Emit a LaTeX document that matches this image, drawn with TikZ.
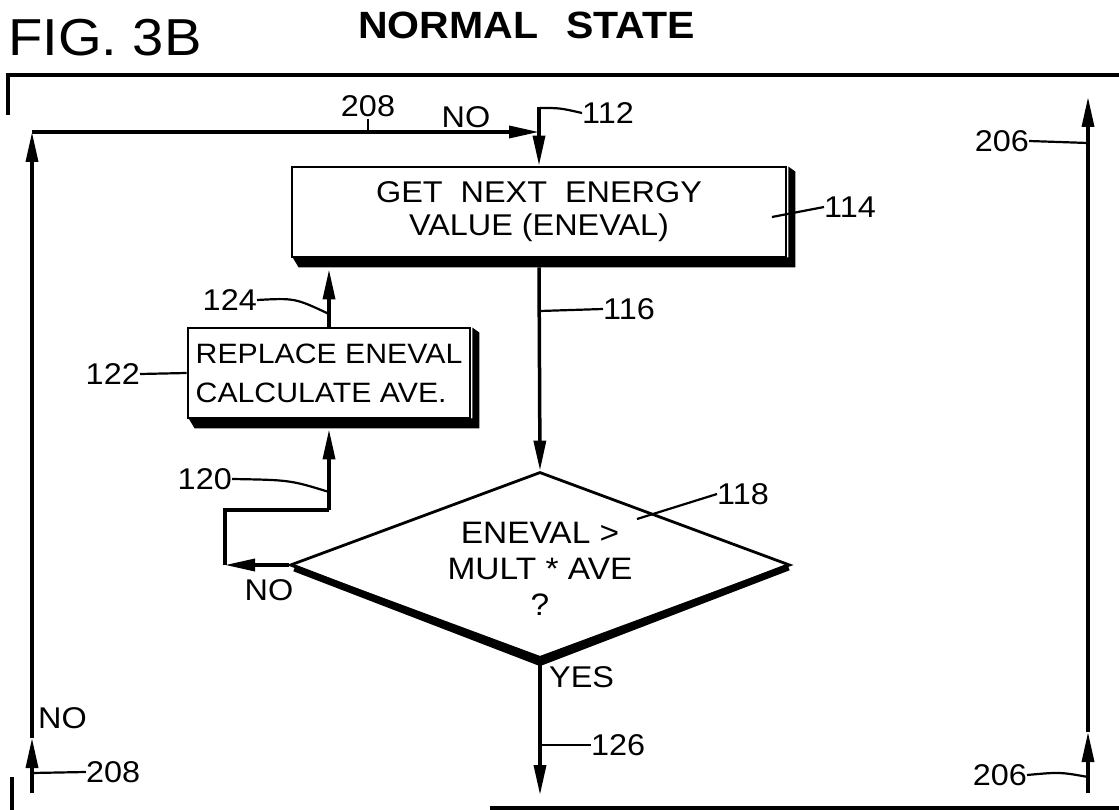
\documentclass[tikz,border=0pt]{standalone}
\usepackage{fontspec}
\setmainfont[FakeStretch=1.08]{Liberation Sans}
\usetikzlibrary{arrows.meta,shapes.geometric,calc}
\begin{document}
\begin{tikzpicture}[x=1pt,y=-1pt,
  flow/.style={line width=3.5pt},
  arr/.style={-{Triangle[length=30pt,width=12pt]}},
  lead/.style={line width=2.2pt},
  lbl/.style={font=\fontsize{30}{30}\selectfont, inner sep=0pt},
  frame/.style={line width=3.5pt},
  boxst/.style={draw, line width=2.8pt, inner sep=0pt},
]
\useasboundingbox (0,0) rectangle (1119,810);

% titles
\node[anchor=base west, inner sep=0pt, font=\fontsize{52}{52}\selectfont] (fig) at (8,56) {FIG. 3B};
\node[anchor=base east, inner sep=0pt, font=\bfseries\fontsize{38}{38}\selectfont] (title) at (695,39) {NORMAL\hspace{28pt}STATE};

% frame
\coordinate (fa) at (8,115);
\coordinate (fb) at (8,75);
\coordinate (fc) at (1119,75);
\draw[frame] (fa) -- (fb) -- (fc);
\coordinate (fd) at (12,777);
\coordinate (fe) at (12,810);
\draw[frame] (fd) -- (fe);
\coordinate (ff) at (490,808);
\coordinate (fg) at (1119,808);
\draw[frame] (ff) -- (fg);

% box 114
\node[boxst, minimum width=494pt, minimum height=90pt, align=center,
      font=\fontsize{30}{33}\selectfont] (b114) at (539,212)
      {GET\hspace{0.6em}NEXT\hspace{0.6em}ENERGY\\VALUE (ENEVAL)};
\fill ($(b114.south west)+(2,-1)$) -- ($(b114.south west)+(8,9)$) -- ($(b114.south east)+(8,9)$)
      -- ($(b114.north east)+(8,6)$) -- ($(b114.north east)+(1,1)$) -- ($(b114.south east)+(1,-1)$) -- cycle;

% box 122
\node[boxst, minimum width=282pt, minimum height=90pt, align=left,
      font=\fontsize{28}{39}\selectfont] (b122) at (329,373)
      {REPLACE ENEVAL\\CALCULATE AVE.};
\fill ($(b122.south west)+(2,-1)$) -- ($(b122.south west)+(8,9)$) -- ($(b122.south east)+(8,9)$)
      -- ($(b122.north east)+(8,6)$) -- ($(b122.north east)+(1,1)$) -- ($(b122.south east)+(1,-1)$) -- cycle;

% diamond 118
\node[diamond, draw, line width=2.8pt, minimum width=500pt, minimum height=186pt, inner sep=0pt] (d) at (540,565) {};
\draw[line width=7pt, line join=round] ([xshift=6pt,yshift=-3pt]d.west) -- ([yshift=-3pt]d.south) -- ([xshift=-3pt,yshift=-2pt]d.east);
\node[align=center, inner sep=0pt, font=\fontsize{31}{36}\selectfont] (t118) at (540,569)
      {ENEVAL >\\MULT * AVE\\?};

% left loop 208
\coordinate (l1) at (32,793);
\coordinate (l2) at (32,738);
\coordinate (l3) at (32,132);
\coordinate (top112) at (539,107);
\draw[flow, arr] (l1) -- (l2);
\draw[flow, arr] (l2) -- (l3);
\draw[flow, arr] (l3) -- (l3 -| top112);
\draw[flow, arr] (top112) -- (b114.north);

% 116
\draw[flow, arr] ([yshift=-9pt]b114.south) -- (d.north);

% 124
\draw[flow, arr] (b122.north) -- ([yshift=-11pt]b122.north |- b114.south);

% 120 jog
\coordinate (j1) at (225,565);
\coordinate (j2) at (225,510);
\coordinate (j3) at (329,510);
\draw[flow, arr] (d.west) -- (j1);
\draw[flow, line join=miter] (j1) -- (j2) -- (j3);
\draw[flow, arr] (j3) -- ([yshift=-10pt]b122.south);

% 126
\coordinate (e126) at (540,795);
\draw[flow, arr] (d.south) -- (e126);

% right 206
\coordinate (r1) at (1088,793);
\coordinate (r2) at (1088,732);
\coordinate (r3) at (1088,97);
\draw[flow, arr] (r1) -- (r2);
\draw[flow, arr] (r2) -- (r3);

% labels
\node[lbl] (n208a) at (368,106) {208};
\draw[lead] (368,119) -- (368,132);
\node[lbl] (noa) at (466,117) {NO};
\node[lbl, anchor=west] (n112) at (582,113) {112};
\draw[lead] (540,108) .. controls (560,108) .. (n112.west);
\node[lbl, anchor=west] (n114) at (824,207) {114};
\draw[lead] (772,217) -- (n114.west);
\node[lbl, anchor=west] (n116) at (603,309) {116};
\draw[lead] (540,311) -- (n116.west);
\node[lbl, anchor=east] (n124) at (257,300) {124};
\draw[lead] (n124.east) .. controls (295,298) .. (329,314);
\node[lbl, anchor=east] (n122) at (140,374) {122};
\draw[lead] (n122.east) -- (b122.west);
\node[lbl, anchor=east] (n120) at (232,479) {120};
\draw[lead] (n120.east) .. controls (290,480) .. (329,492);
\node[lbl] (nob) at (269,590) {NO};
\node[lbl, anchor=west] (n118) at (717,494) {118};
\draw[lead] (637,519) -- (n118.west);
\node[lbl, anchor=west] (yes) at (549,677) {YES};
\node[lbl, anchor=west] (n126) at (591,745) {126};
\draw[lead] (540,745) -- (n126.west);
\node[lbl, anchor=west] (noc) at (38,718) {NO};
\node[lbl, anchor=west] (n208b) at (86,772) {208};
\draw[lead] (32,773) -- (n208b.west);
\node[lbl, anchor=east] (n206a) at (1029,141) {206};
\draw[lead] (n206a.east) -- (1088,143);
\node[lbl, anchor=east] (n206b) at (1027,775) {206};
\draw[lead] (n206b.east) .. controls (1060,772) .. (1088,777);
\end{tikzpicture}
\end{document}
